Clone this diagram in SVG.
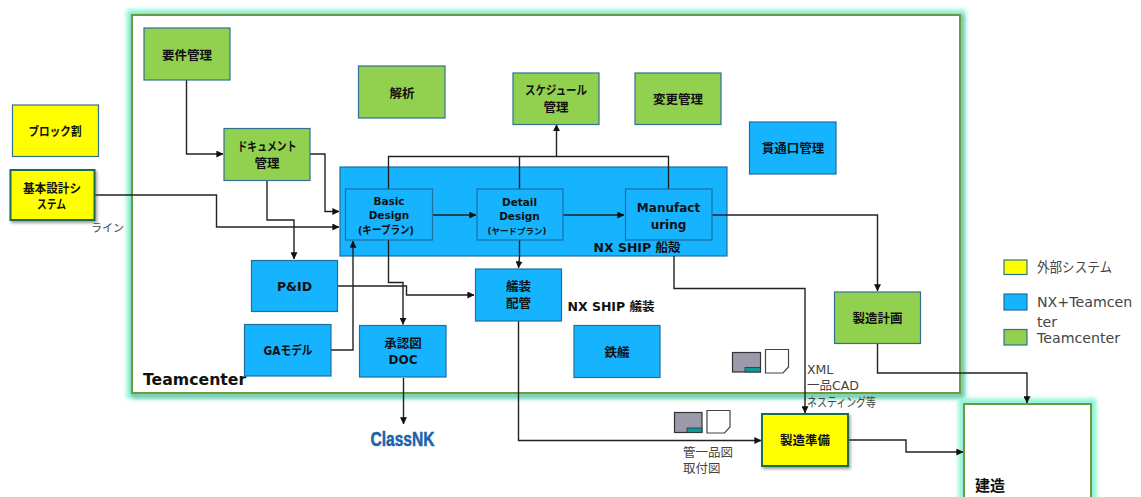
<svg xmlns="http://www.w3.org/2000/svg" width="1141" height="497" viewBox="0 0 1141 497">
<style>
text{font-family:"DejaVu Sans","Noto Sans CJK JP",sans-serif;fill:#111;text-anchor:middle}
.b{font-weight:700;font-size:12.5px}
.m{font-size:12.5px;fill:#444;text-anchor:start}
.g{fill:#92d050;stroke:#31708f;stroke-width:1.2}
.c{fill:#16b4ff;stroke:#1f6f9f;stroke-width:1.2}
.y{fill:#ff0;stroke:#31708f;stroke-width:1.2}
.ys{fill:#ff0;stroke:#1f6b4f;stroke-width:2}
.f{fill:#fff;stroke:#6f9a3c;stroke-width:2}
.gl{fill:none;stroke:#8ff3d8;stroke-width:11}
#connectors path{fill:none;stroke:#222;stroke-width:1.4;marker-end:url(#a)}
.i1{fill:#9a9aaa;stroke:#333;stroke-width:1.2}
.i2{fill:#0a9a98;stroke:#333;stroke-width:.8}
.i3{fill:#fff;stroke:#444;stroke-width:1.2}
</style>
<defs>
<marker id="a" viewBox="0 0 10 10" refX="9.5" refY="5" markerWidth="7" markerHeight="7" markerUnits="userSpaceOnUse" orient="auto"><path d="M0 0L10 5L0 10Z" fill="#111"/></marker>
<filter id="blur" x="-10%" y="-10%" width="120%" height="120%"><feGaussianBlur stdDeviation="2"/></filter>
<filter id="sh" x="-20%" y="-20%" width="140%" height="140%"><feDropShadow dx="1.5" dy="2" stdDeviation="1.5" flood-color="#555" flood-opacity=".6"/></filter>
</defs>

<g id="teamcenter-frame">
<rect class="gl" x="132" y="15" width="828" height="378" filter="url(#blur)"/>
<rect x="134" y="17" width="828" height="379" fill="none" stroke="#5aa58a" stroke-width="4" opacity=".7" filter="url(#blur)"/>
<rect class="f" x="132" y="15" width="828" height="378"/>
<text x="143" y="385" style="text-anchor:start;font-weight:700;font-size:15.700px">Teamcenter</text>
</g>
<g id="kenzo-frame">
<rect class="gl" x="964" y="404" width="127" height="110" filter="url(#blur)"/>
<rect class="f" x="964" y="404" width="127" height="110"/>
<text x="975" y="491" style="text-anchor:start;font-weight:700;font-size:15px">建造</text>
</g>

<g id="nx-panel"><rect class="c" x="340" y="167" width="387" height="89"/><text x="637" y="252" class="b">NX SHIP 船殻</text></g>

<g id="connectors">
<path d="M186.500 80V154H223"/>
<path d="M310 154H325V211.500H339"/>
<path d="M94 195H216.500V227H339"/>
<path d="M267 180V220H294V259"/>
<path d="M432 215H476"/>
<path d="M563 215H624"/>
<path d="M712 215H877.500V291"/>
<path d="M388.500 189V156.500H668.500V189" style="marker-end:none"/>
<path d="M519.500 189V156.500" style="marker-end:none"/>
<path d="M556.500 156.500V124.500"/>
<path d="M388.500 240V282.500H403V324.500"/>
<path d="M337.500 286H406.500V295H474"/>
<path d="M331 350H353V241"/>
<path d="M519.500 240V257L518.500 268"/>
<path d="M518.500 321V440.500H761"/>
<path d="M674 256V288.500H805V413"/>
<path d="M877.500 343V373H1027V403"/>
<path d="M848 440H906V452H963"/>
<path d="M403.500 378V424"/>
</g>

<g id="n-yoken"><rect class="g" x="144" y="28" width="86" height="52"/><text class="b" x="187" y="60">要件管理</text></g>
<g id="n-kaiseki"><rect class="g" x="358.500" y="66" width="86.500" height="52"/><text class="b" x="402" y="98">解析</text></g>
<g id="n-block"><rect class="y" x="12.500" y="105" width="86" height="51.500"/><text class="b" x="55" y="136" textLength="53" lengthAdjust="spacingAndGlyphs">ブロック割</text></g>
<g id="n-kihon"><rect class="ys" x="10.500" y="170" width="84" height="50" filter="url(#sh)"/><text class="b" x="52" y="193" textLength="58" lengthAdjust="spacingAndGlyphs">基本設計シ</text><text class="b" x="51.500" y="209" textLength="29" lengthAdjust="spacingAndGlyphs">ステム</text></g>
<g id="n-doc"><rect class="g" x="224" y="128.500" width="86" height="52"/><text class="b" x="267" y="151" textLength="59" lengthAdjust="spacingAndGlyphs">ドキュメント</text><text class="b" x="267" y="168">管理</text></g>
<g id="n-basic"><rect class="c" x="345.500" y="189" width="87" height="51"/><text class="b" x="389" y="205" style="font-size:10.500px">Basic</text><text class="b" x="389" y="219" style="font-size:10.500px">Design</text><text class="b" x="386" y="234" style="font-size:11px" textLength="56" lengthAdjust="spacingAndGlyphs">(キープラン)</text></g>
<g id="n-detail"><rect class="c" x="477" y="189" width="86" height="51"/><text class="b" x="519.500" y="206" style="font-size:10.500px">Detail</text><text class="b" x="519.500" y="220" style="font-size:10.500px">Design</text><text class="b" x="517" y="234" style="font-size:8.500px">(ヤードプラン)</text></g>
<g id="n-manu"><rect class="c" x="625.500" y="189" width="86.500" height="51"/><text class="b" x="668.500" y="212" style="font-size:12px">Manufact</text><text class="b" x="668.500" y="229" style="font-size:12px">uring</text></g>
<g id="n-sched"><rect class="g" x="513" y="73" width="86" height="51.500"/><text class="b" x="556" y="95" textLength="62" lengthAdjust="spacingAndGlyphs">スケジュール</text><text class="b" x="556" y="112">管理</text></g>
<g id="n-henko"><rect class="g" x="635" y="73" width="86" height="51.500"/><text class="b" x="678" y="104">変更管理</text></g>
<g id="n-kantsu"><rect class="c" x="749.500" y="122" width="86.500" height="52"/><text class="b" x="793" y="153">貫通口管理</text></g>
<g id="n-pid"><rect class="c" x="251.500" y="260.500" width="86" height="51"/><text class="b" x="294.500" y="291">P&amp;ID</text></g>
<g id="n-ga"><rect class="c" x="244.500" y="324.500" width="86.500" height="51.500"/><text class="b" x="288" y="355" textLength="49" lengthAdjust="spacingAndGlyphs">GAモデル</text></g>
<g id="n-shonin"><rect class="c" x="359.500" y="325.500" width="86.500" height="51.500"/><text class="b" x="403" y="348">承認図</text><text class="b" x="403" y="364" style="font-size:12px">DOC</text></g>
<g id="n-giso"><rect class="c" x="475.500" y="269" width="86" height="52"/><text class="b" x="518.500" y="291">艤装</text><text class="b" x="518.500" y="308">配管</text></g>
<text class="b" x="611" y="311">NX SHIP 艤装</text>
<g id="n-tetsu"><rect class="c" x="574" y="325.500" width="86" height="52"/><text class="b" x="617" y="357">鉄艤</text></g>
<g id="n-keikaku"><rect class="g" x="834.500" y="292" width="86" height="51.500"/><text class="b" x="877.500" y="323">製造計画</text></g>
<g id="n-junbi"><rect class="ys" x="762" y="414" width="86" height="52" filter="url(#sh)"/><text class="b" x="805" y="445">製造準備</text></g>

<g id="icons">
<rect class="i1" x="732.500" y="352.500" width="28" height="19.500"/><rect class="i2" x="745" y="367.500" width="15.500" height="4.500"/>
<path class="i3" d="M765.500 349.500H788.500V367L783 373H765.500Z"/>
<rect class="i1" x="674.500" y="412.500" width="27.500" height="20"/><rect class="i2" x="687" y="428" width="15" height="4.500"/>
<path class="i3" d="M707 410.500H730V427L724.500 433H707Z"/>
</g>

<text class="m" x="91" y="232" style="font-size:11px">ライン</text>
<text class="m" x="807" y="374">XML</text>
<text class="m" x="807" y="390">一品CAD</text>
<text class="m" x="807" y="407" textLength="69" lengthAdjust="spacingAndGlyphs">ネスティング等</text>
<text class="m" x="683" y="457">管一品図</text>
<text class="m" x="683" y="473">取付図</text>

<g id="classnk"><text x="402.500" y="446" textLength="64" lengthAdjust="spacingAndGlyphs" style="font-family:'Liberation Sans Narrow','Liberation Sans',sans-serif;font-weight:700;font-size:20px;fill:#1a62ac;stroke:#1a62ac;stroke-width:.5">ClassNK</text></g>

<g id="legend">
<rect class="y" x="1004" y="260" width="23" height="14.500"/>
<rect class="c" x="1004" y="294" width="23" height="16"/>
<rect class="g" x="1004" y="329.500" width="23" height="15.500"/>
<text class="m" x="1037" y="272" style="font-size:13.500px" textLength="75" lengthAdjust="spacingAndGlyphs">外部システム</text>
<text class="m" x="1037" y="307" style="font-size:14.200px">NX+Teamcen</text>
<text class="m" x="1037" y="327" style="font-size:14.200px">ter</text>
<text class="m" x="1037" y="343" style="font-size:14.200px">Teamcenter</text>
</g>
</svg>
